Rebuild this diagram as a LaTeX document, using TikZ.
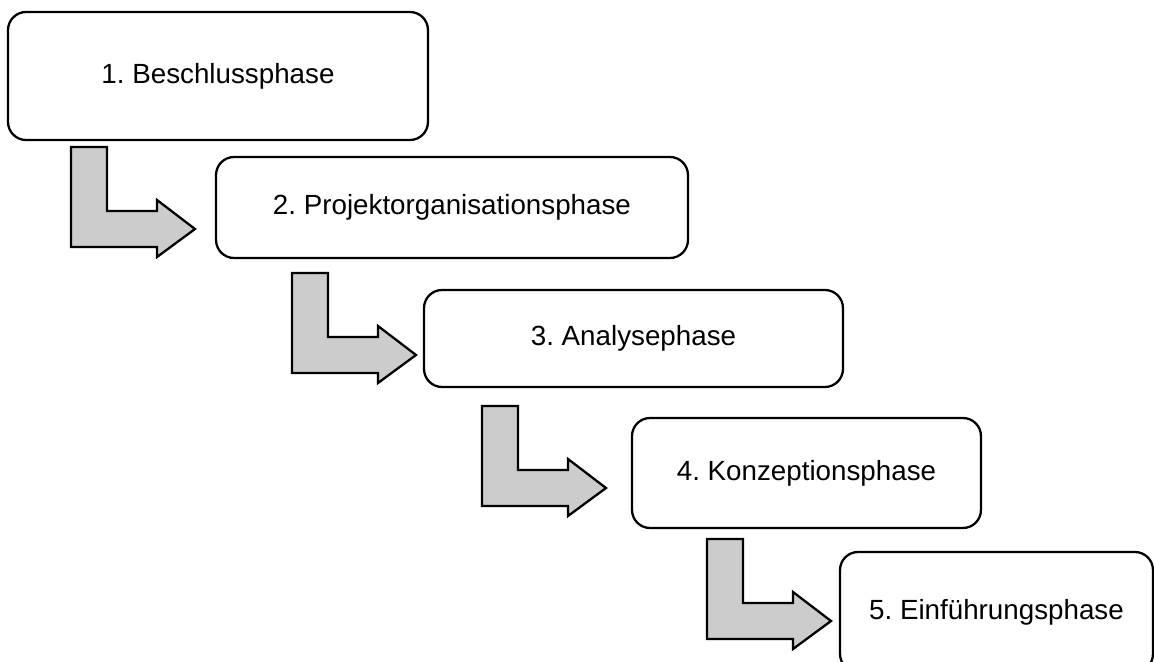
\documentclass[tikz,border=0pt]{standalone}
\usepackage{fontspec}
\setmainfont{Liberation Sans}
\frenchspacing
\tikzset{
  phase/.style={
    draw,
    line width=1.3pt,
    rounded corners=0.36cm,
    inner sep=0pt,
    font=\fontsize{15.8}{18}\selectfont
  },
  blockarrow/.style={
    draw,
    line width=1.3pt,
    fill=black!20,
    line join=miter
  },
}

\begin{document}
\begin{tikzpicture}[x=0.02cm,y=-0.02cm]
  \clip (0,0) rectangle (1154,662);
  % phases
  \node[phase,minimum width=8.4cm,minimum height=2.56cm] (b1) at (218,76) {1. Beschlussphase};
  \node[phase,minimum width=9.44cm,minimum height=2.02cm] (b2) at (452,207.5) {2. Projektorganisationsphase};
  \node[phase,minimum width=8.38cm,minimum height=1.94cm] (b3) at (633.5,338.5) {3. Analysephase};
  \node[phase,minimum width=6.98cm,minimum height=2.2cm] (b4) at (806.5,473) {4. Konzeptionsphase};
  \node[phase,minimum width=6.26cm,minimum height=2.4cm] (b5) at (996.5,612) {5. Einführungsphase};
  % arrows between the phases
  \foreach \ax/\ay [count=\i] in {71/147,292/273,482/406,707/539}{
    \coordinate (a\i) at (\ax,\ay);
    \draw[blockarrow] (a\i) -- ++(36,0) -- ++(0,64) -- ++(50,0) -- ++(0,-11)
      -- ++(38,29) -- ++(-38,28) -- ++(0,-10) -- ++(-86,0) -- cycle;
  }
\end{tikzpicture}
\end{document}
